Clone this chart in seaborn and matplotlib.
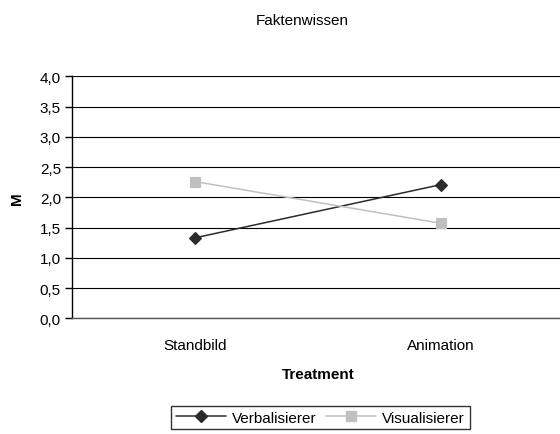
import matplotlib
matplotlib.use("Agg")
import matplotlib.pyplot as plt
import seaborn as sns
import pandas as pd
from matplotlib.ticker import FixedLocator, FuncFormatter
from matplotlib.lines import Line2D

categories = ["Standbild", "Animation"]
verbalisierer = [1.33, 2.21]
visualisierer = [2.26, 1.57]
series_names = ["Verbalisierer", "Visualisierer"]
yticks = [0.0, 0.5, 1.0, 1.5, 2.0, 2.5, 3.0, 3.5, 4.0]

df = pd.DataFrame({
    "Treatment": categories * 2,
    "M": verbalisierer + visualisierer,
    "Gruppe": [series_names[0]] * 2 + [series_names[1]] * 2,
})

sns.set_style("white")
plt.rcParams["font.family"] = ["Liberation Sans", "DejaVu Sans"]
plt.rcParams["text.color"] = "black"
plt.rcParams["xtick.color"] = "black"
plt.rcParams["ytick.color"] = "black"
plt.rcParams["axes.labelcolor"] = "black"

FS = 11
W, H = 560, 435
fig = plt.figure(figsize=(W / 100, H / 100), dpi=100)
ax = fig.add_axes([72 / W, (H - 319.3) / H, 492 / W, (319.3 - 77.3) / H])

for y in yticks:
    ax.axhline(y, color="black", lw=0.8, zorder=1)

palette = {"Verbalisierer": "#2b2b2b", "Visualisierer": "#c0c0c0"}
markers = {"Verbalisierer": "D", "Visualisierer": "s"}
msizes = {"Verbalisierer": 6.5, "Visualisierer": 7}
sns.pointplot(data=df, x="Treatment", y="M", hue="Gruppe", order=categories,
              hue_order=series_names, palette=palette, markers=["D", "s"],
              linestyles=["-", "-"], ax=ax, legend=False, errorbar=None,
              markersize=6.5, linewidth=1.1)

ax.set_xlim(-0.5, 1.5)
ax.set_ylim(0, 4.0)
ax.yaxis.set_major_locator(FixedLocator(yticks))
ax.yaxis.set_major_formatter(FuncFormatter(lambda v, p: f"{v:.1f}".replace(".", ",")))
ax.set_xticks([0, 1])
ax.set_xticklabels(categories)
ax.set_xticks([0.5], minor=True)
ax.tick_params(axis="x", which="major", length=0, pad=14, labelsize=FS)
ax.tick_params(axis="x", which="minor", length=4, width=1, color="black", direction="out")
ax.tick_params(axis="y", length=5, width=1, color="black", direction="out", left=True, labelsize=FS, pad=3)

for s in ["top", "right"]:
    ax.spines[s].set_visible(False)
ax.spines["left"].set_color("black")
ax.spines["left"].set_linewidth(1.0)
ax.spines["bottom"].set_color("#555555")
ax.spines["bottom"].set_linewidth(1.0)

ax.set_xlabel("Treatment", fontsize=FS, fontweight="bold", labelpad=11)
ax.set_ylabel("M", fontsize=FS, fontweight="bold", labelpad=11)

fig.text(302 / W, 1 - 21 / H, "Faktenwissen", ha="center", va="center", fontsize=FS)

hl = [Line2D([], [], color=palette[n], marker=markers[n], markersize=msizes[n], lw=1.1) for n in series_names]
leg = fig.legend(hl, series_names, loc="upper left", bbox_to_anchor=(171 / W, 1 - 407 / H),
                 ncol=2, frameon=True, fancybox=False, fontsize=FS, handlelength=3.3,
                 handletextpad=0.4, columnspacing=0.6, borderpad=0.3, borderaxespad=0)
leg.get_frame().set_edgecolor("black")
leg.get_frame().set_linewidth(1.0)

fig.savefig("out.png", dpi=100)
